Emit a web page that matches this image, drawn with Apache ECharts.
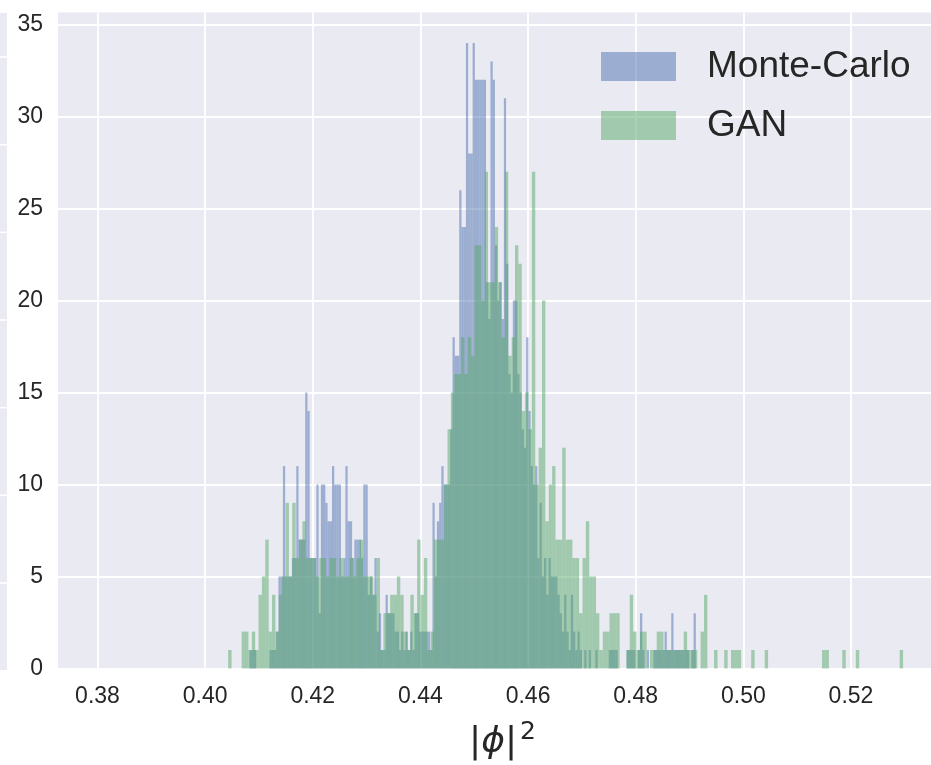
<!DOCTYPE html>
<html><head><meta charset="utf-8">
<script src="https://cdn.jsdelivr.net/npm/echarts@6/dist/echarts.min.js"></script>
<style>html,body{margin:0;padding:0;background:#fff}#c{width:931px;height:765px}</style>
</head><body><div id="c"></div>
<script>
const xTicks = [0.38, 0.40, 0.42, 0.44, 0.46, 0.48, 0.50, 0.52];
const yTicks = [0, 5, 10, 15, 20, 25, 30, 35];
const seriesNames = ['Monte-Carlo', 'GAN'];

// Monte-Carlo histogram: 200 bins
const mcStart = 0.40823;
const mcWidth = 0.0004147;
const mcCounts = [
  1,1,1,0,0,0,0,0,0,1,
  1,1,2,5,5,11,5,5,5,6,
  6,11,7,7,7,15,14,6,6,6,
  10,3,10,10,9,8,8,11,10,10,
  10,5,6,11,8,8,6,7,7,7,
  6,10,10,4,5,4,6,2,3,1,
  1,4,3,3,3,2,2,1,2,1,
  2,1,2,1,3,3,2,2,2,2,
  2,1,9,5,8,9,11,10,10,10,
  13,18,17,17,26,24,24,34,28,28,
  34,32,32,32,32,32,21,19,33,32,
  23,20,21,19,31,22,16,15,20,20,
  16,15,13,12,18,14,11,10,11,6,
  9,5,6,4,6,5,5,5,4,3,
  2,4,2,1,4,2,1,2,1,0,
  1,0,1,0,0,1,0,0,0,0,
  0,1,1,1,1,0,0,0,0,1,
  1,1,1,0,1,3,1,0,1,0,
  0,1,1,1,1,1,2,1,1,3,
  1,1,1,1,1,1,1,0,1,3
];

// GAN histogram: 200 bins
const ganStart = 0.40428;
const ganWidth = 0.000627;
const ganCounts = [
  1,0,0,0,2,2,1,2,1,4,
  5,7,2,4,2,4,5,9,5,9,
  6,7,8,6,6,6,5,6,6,5,
  6,6,5,6,5,5,6,5,6,7,
  5,5,5,4,6,1,3,3,4,4,
  5,4,2,1,4,3,7,4,6,1,
  2,7,7,7,10,13,15,16,16,18,
  16,18,17,23,23,20,27,21,21,24,
  21,18,27,17,18,23,22,14,15,13,
  27,10,12,20,8,10,11,7,7,12,
  7,7,6,6,3,6,8,5,5,3,
  1,2,2,3,3,3,0,0,1,4,
  2,1,2,2,0,1,1,2,2,1,
  1,1,1,1,1,2,1,1,1,0,
  2,4,0,0,1,0,0,1,0,1,
  1,1,0,0,0,1,0,0,0,1,
  0,0,0,0,0,0,0,0,0,0,
  0,0,0,0,0,0,1,1,0,0,
  0,0,1,0,0,0,1,0,0,0,
  0,0,0,0,0,0,0,0,0,1
];

function toBins(start, width, counts) {
  return counts.map((c, i) => [start + i * width, start + (i + 1) * width, c]);
}
function renderBar(params, api) {
  const x0 = api.value(0), x1 = api.value(1), h = api.value(2);
  if (!h) return null;
  const a = api.coord([x0, h]);
  const b = api.coord([x1, 0]);
  return {
    type: 'rect',
    shape: { x: a[0], y: a[1], width: b[0] - a[0], height: b[1] - a[1] },
    style: { fill: api.visual('color') }
  };
}

// neighbouring panel remnant at the far left edge
const stripLines = [57, 144.7, 232.3, 320, 407.7, 495.3, 583].map(y => ({
  type: 'rect', left: 0, top: y - 0.8, shape: { width: 7, height: 1.6 }, style: { fill: '#ffffff' }, silent: true, z: 2
}));

const chart = echarts.init(document.getElementById('c'));
const txt = '#262626';
chart.setOption({
  animation: false,
  backgroundColor: '#ffffff',
  textStyle: { fontFamily: 'Liberation Sans, Arial, sans-serif' },
  graphic: [
    { type: 'rect', left: 0, top: 13, shape: { width: 7, height: 657 }, style: { fill: '#EAEAF2' }, silent: true, z: 1 }
  ].concat(stripLines),
  grid: {
    left: 58, right: 0, top: 12.5, bottom: 96.6,
    show: true, backgroundColor: '#EAEAF2', borderWidth: 0,
    outerBoundsMode: 'none', containLabel: false
  },
  legend: {
    data: seriesNames,
    orient: 'vertical',
    left: 596, top: 43,
    itemWidth: 75, itemHeight: 29, itemGap: 22,
    icon: 'rect',
    textStyle: { fontSize: 37, color: txt, fontFamily: 'Liberation Sans, Arial, sans-serif', padding: [0, 0, 0, 26] }
  },
  xAxis: {
    type: 'value',
    min: 0.372661, max: 0.534868,
    axisLine: { show: false },
    axisTick: { show: false, customValues: xTicks },
    axisLabel: {
      customValues: xTicks,
      formatter: v => v.toFixed(2),
      fontSize: 23, color: txt, margin: 17
    },
    splitLine: { show: true, lineStyle: { color: '#ffffff', width: 1.8 } },
    name: '{a||}{b|ϕ}{a||}{c|2}',
    nameLocation: 'middle',
    nameGap: 52,
    nameTextStyle: {
      padding: [0, 0, 0, 16],
      rich: {
        a: { fontSize: 36, fontFamily: 'DejaVu Sans', color: txt, lineHeight: 44 },
        b: { fontSize: 36, fontFamily: 'DejaVu Sans', fontStyle: 'italic', color: txt, lineHeight: 44 },
        c: { fontSize: 25, fontFamily: 'DejaVu Sans', color: txt, verticalAlign: 'top', lineHeight: 26, padding: [0, 0, 0, 3] }
      }
    }
  },
  yAxis: {
    type: 'value',
    min: 0, max: 35.66,
    axisLine: { show: false },
    axisTick: { show: false, customValues: yTicks },
    axisLabel: { customValues: yTicks, fontSize: 23, color: txt, margin: 15, padding: [5, 0, 0, 0] },
    splitLine: { show: true, lineStyle: { color: '#ffffff', width: 1.8 } }
  },
  series: [
    {
      name: seriesNames[0], type: 'custom', renderItem: renderBar,
      itemStyle: { color: 'rgba(76,114,176,0.5)' },
      encode: { x: [0, 1], y: 2 },
      data: toBins(mcStart, mcWidth, mcCounts), z: 2
    },
    {
      name: seriesNames[1], type: 'custom', renderItem: renderBar,
      itemStyle: { color: 'rgba(85,168,104,0.5)' },
      encode: { x: [0, 1], y: 2 },
      data: toBins(ganStart, ganWidth, ganCounts), z: 3
    }
  ]
});
</script></body></html>
